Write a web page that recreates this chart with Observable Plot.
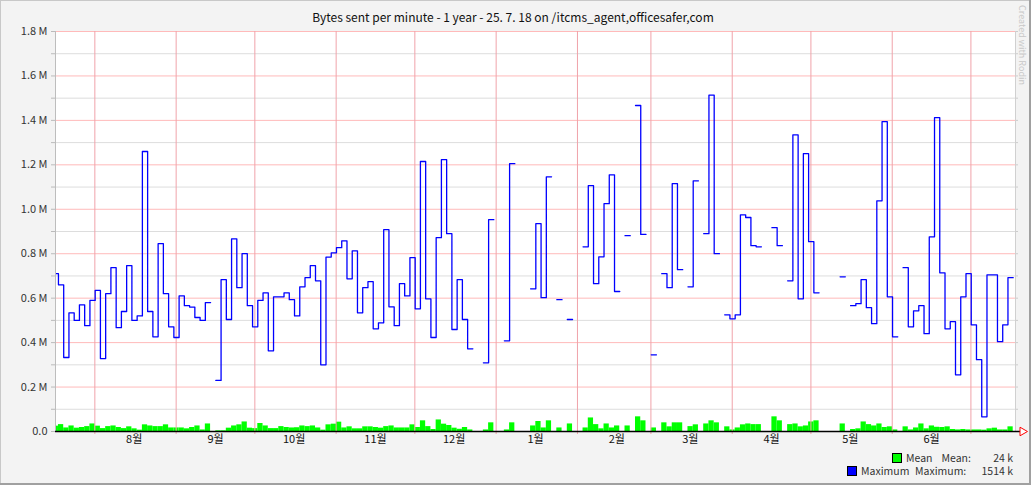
<!DOCTYPE html>
<html><head><meta charset="utf-8">
<script src="https://cdn.jsdelivr.net/npm/d3@7"></script>
<script src="https://cdn.jsdelivr.net/npm/@observablehq/plot@0.6"></script>
<style>
body{margin:0;background:#fff;}
#wrap{position:relative;width:1031px;height:485px;background:#f3f3f3;overflow:hidden;font-family:"Noto Sans CJK KR","DejaVu Sans",sans-serif;}
#wrap svg{position:absolute;left:0;top:0;}
.abs{position:absolute;white-space:nowrap;}
#title{left:0;width:1026px;top:10px;text-align:center;font-size:12px;color:#111;line-height:13px;}
.lg{font-size:10.5px;line-height:11px;color:#333;}
.sw{position:absolute;width:8px;height:8px;border:1px solid #000;}
#wm{left:1017px;top:5px;font-size:9px;line-height:10px;color:#c8c8c8;transform-origin:0 0;transform:translate(10px,0) rotate(90deg);}
.bd{position:absolute;}
</style></head>
<body>
<div id="wrap"></div>
<script>
// ---- data (values in thousands of bytes, one value per 2-day step, null = no data)
const maximumK = [710,660,333,534,500,570,476,590,635,328,620,737,467,540,746,500,520,1260,540,426,
845,620,471,423,610,566,560,513,500,580,null,230,683,504,867,647,800,566,471,590,
624,363,606,606,624,593,520,651,692,746,678,300,785,804,827,858,687,813,534,647,
674,462,489,908,561,476,665,610,782,552,1215,597,423,872,1223,890,459,683,504,372,
null,null,309,953,null,null,408,1205,null,null,null,642,935,602,1146,null,593,null,504,null,
null,831,1106,665,786,1025,1155,630,null,881,null,1467,887,null,345,null,710,647,1115,728,
null,651,1128,null,890,1514,800,null,525,507,525,975,963,836,831,null,null,917,836,null,
678,1335,597,1250,854,624,null,null,null,null,696,null,566,575,683,557,485,1038,1394,606,
426,null,737,471,543,566,440,876,1412,714,462,494,255,606,710,480,323,66,705,705,
404,480,692];
const meanK = [24,31,16,25,15,18,22,34,24,13,22,25,18,13,21,12,6,30,25,22,
22,30,16,16,16,12,18,25,7,34,null,3,3,15,25,30,43,15,13,36,
25,13,13,22,18,16,17,25,22,25,16,6,30,33,42,16,21,12,12,21,
21,18,15,22,25,16,16,16,30,18,48,22,9,52,33,27,15,10,18,7,
null,null,7,39,null,null,7,39,null,null,null,25,45,16,48,null,16,null,34,null,
null,16,61,31,12,34,16,25,null,25,null,66,48,null,16,null,39,21,39,39,
null,22,30,null,34,48,39,null,21,7,16,30,34,31,31,null,null,66,48,null,
31,34,21,25,43,48,null,null,null,null,34,null,9,12,43,31,25,34,18,21,
7,null,21,7,16,34,12,25,19,18,21,9,7,9,7,7,7,6,12,15,
7,7,21];
const firstStepStart = Date.UTC(2024, 6, 16, 3);   // start of first 2-day step
const stepDays = 2;
const periodStart = Date.UTC(2024, 6, 17);
const periodEnd = Date.UTC(2025, 6, 18);
const monthLabels = ["8월","9월","10월","11월","12월","1월","2월","3월","4월","5월","6월"];
const monthLabelDates = [[2024,7],[2024,8],[2024,9],[2024,10],[2024,11],[2025,0],[2025,1],[2025,2],[2025,3],[2025,4],[2025,5]].map(([y,m]) => new Date(Date.UTC(y,m,16)));
const monthStarts = [[2024,7],[2024,8],[2024,9],[2024,10],[2024,11],[2025,0],[2025,1],[2025,2],[2025,3],[2025,4],[2025,5],[2025,6]].map(([y,m]) => new Date(Date.UTC(y,m,1)));
const yMajorTicks = [0,200000,400000,600000,800000,1000000,1200000,1400000,1600000,1800000];
const yMinorTicks = [100000,300000,500000,700000,900000,1100000,1300000,1500000,1700000];
const titleText = "Bytes sent per minute - 1 year - 25. 7. 18 on /itcms_agent,officesafer,com";
const legendItems = [
  {name: "Mean", stat: "Mean:", value: "24 k", color: "#00ff00"},
  {name: "Maximum", stat: "Maximum:", value: "1514 k", color: "#0000ff"}
];

// ---- derived tables
const DAY = 864e5;
const stepStart = i => new Date(firstStepStart + i * stepDays * DAY);
const lineRows = [];
maximumK.forEach((v, i) => {
  if (v == null) lineRows.push({t: stepStart(i), v: NaN});
  else lineRows.push({t: stepStart(i), v: v * 1000}, {t: stepStart(i + 1), v: v * 1000});
});
const meanRows = meanK.map((v, i) => ({t1: stepStart(i), t2: stepStart(i + 1), v: v == null ? null : v * 1000})).filter(d => d.v != null);
const labelByTime = new Map(monthLabelDates.map((d, i) => [+d, monthLabels[i]]));

const chart = Plot.plot({
  width: 1031, height: 485,
  marginLeft: 55, marginRight: 16, marginTop: 31, marginBottom: 54,
  style: {background: "transparent", fontFamily: '"Noto Sans CJK KR","DejaVu Sans",sans-serif', fontSize: "11px", color: "#333"},
  x: {type: "utc", domain: [new Date(periodStart), new Date(periodEnd)], label: null},
  y: {domain: [0, 1800000], label: null},
  marks: [
    Plot.frame({fill: "white", stroke: "none"}),
    Plot.ruleY(yMinorTicks, {stroke: "#dddddd", strokeWidth: 1}),
    Plot.ruleY(yMajorTicks.slice(1), {stroke: "#ffbaba", strokeWidth: 1}),
    Plot.rectY(meanRows, {x1: "t1", x2: "t2", y: "v", fill: "#00ff00", clip: true}),
    Plot.ruleX(monthStarts, {stroke: "#f0a3aa", strokeWidth: 1}),
    Plot.line(lineRows, {x: "t", y: "v", stroke: "#0000ff", strokeWidth: 1.3, clip: true}),
    Plot.ruleX([new Date(periodStart)], {stroke: "#bdbdbd"}),
    Plot.ruleX([new Date(periodEnd)], {stroke: "#d0d0d0"}),
    Plot.axisY({ticks: yMajorTicks, label: null, tickSize: 4, tickPadding: 4, stroke: "#bbb", fill: "#333",
      tickFormat: d => d === 0 ? "0.0" : (d / 1e6).toFixed(1) + " M"}),
    Plot.axisY({ticks: yMinorTicks, label: null, tickSize: 4, tickFormat: () => "", stroke: "#bbb"}),
    Plot.axisY({anchor: "right", label: null, ticks: yMajorTicks.concat(yMinorTicks), tickSize: 2, tickFormat: () => "", stroke: "#ccc"}),
    Plot.axisX({ticks: monthStarts, label: null, tickSize: 3, tickFormat: () => "", stroke: "#f0a3aa"}),
    Plot.axisX({ticks: monthLabelDates, label: null, tickSize: 0, tickPadding: 4, fill: "#111",
      tickFormat: d => labelByTime.get(+d)}),
    Plot.ruleY([0], {stroke: "#000", strokeWidth: 1.3, insetRight: -5}),
    Plot.dot([new Date(periodEnd)], {x: d => d, y: () => 0, symbol: "triangle", rotate: 90, r: 3.2, stroke: "#ff0000", fill: "white", strokeWidth: 1, dx: 7})
  ]
});
const wrap = document.getElementById("wrap");
wrap.appendChild(chart);

function add(cls, id, text, style) {
  const el = document.createElement("div");
  el.className = cls; if (id) el.id = id; el.textContent = text;
  Object.assign(el.style, style || {});
  wrap.appendChild(el); return el;
}
add("abs", "title", titleText);
add("abs", "wm", "Created with Rodin");
// legend
const rows = [
  {top: 452, sw: 892, name: 906, stat: 941.5},
  {top: 465, sw: 846.5, name: 861, stat: 915}
];
legendItems.forEach((it, i) => {
  const r = rows[i];
  const s = document.createElement("div");
  s.className = "sw"; s.style.left = r.sw + "px"; s.style.top = (r.top + 1) + "px"; s.style.background = it.color;
  wrap.appendChild(s);
  add("abs lg", null, it.name, {left: r.name + "px", top: r.top + "px"});
  add("abs lg", null, it.stat, {left: r.stat + "px", top: r.top + "px"});
  add("abs lg", null, it.value, {right: (1031 - 1013) + "px", top: r.top + "px", textAlign: "right"});
});
// outer border
add("bd", null, "", {left: "0", top: "0", width: "1031px", height: "1px", background: "#c8c8c8"});
add("bd", null, "", {left: "0", top: "0", width: "1px", height: "485px", background: "#c8c8c8"});
add("bd", null, "", {left: "0", top: "483px", width: "1031px", height: "2px", background: "#a0a0a0"});
add("bd", null, "", {left: "1029px", top: "0", width: "2px", height: "485px", background: "#a0a0a0"});
</script>
</body></html>
